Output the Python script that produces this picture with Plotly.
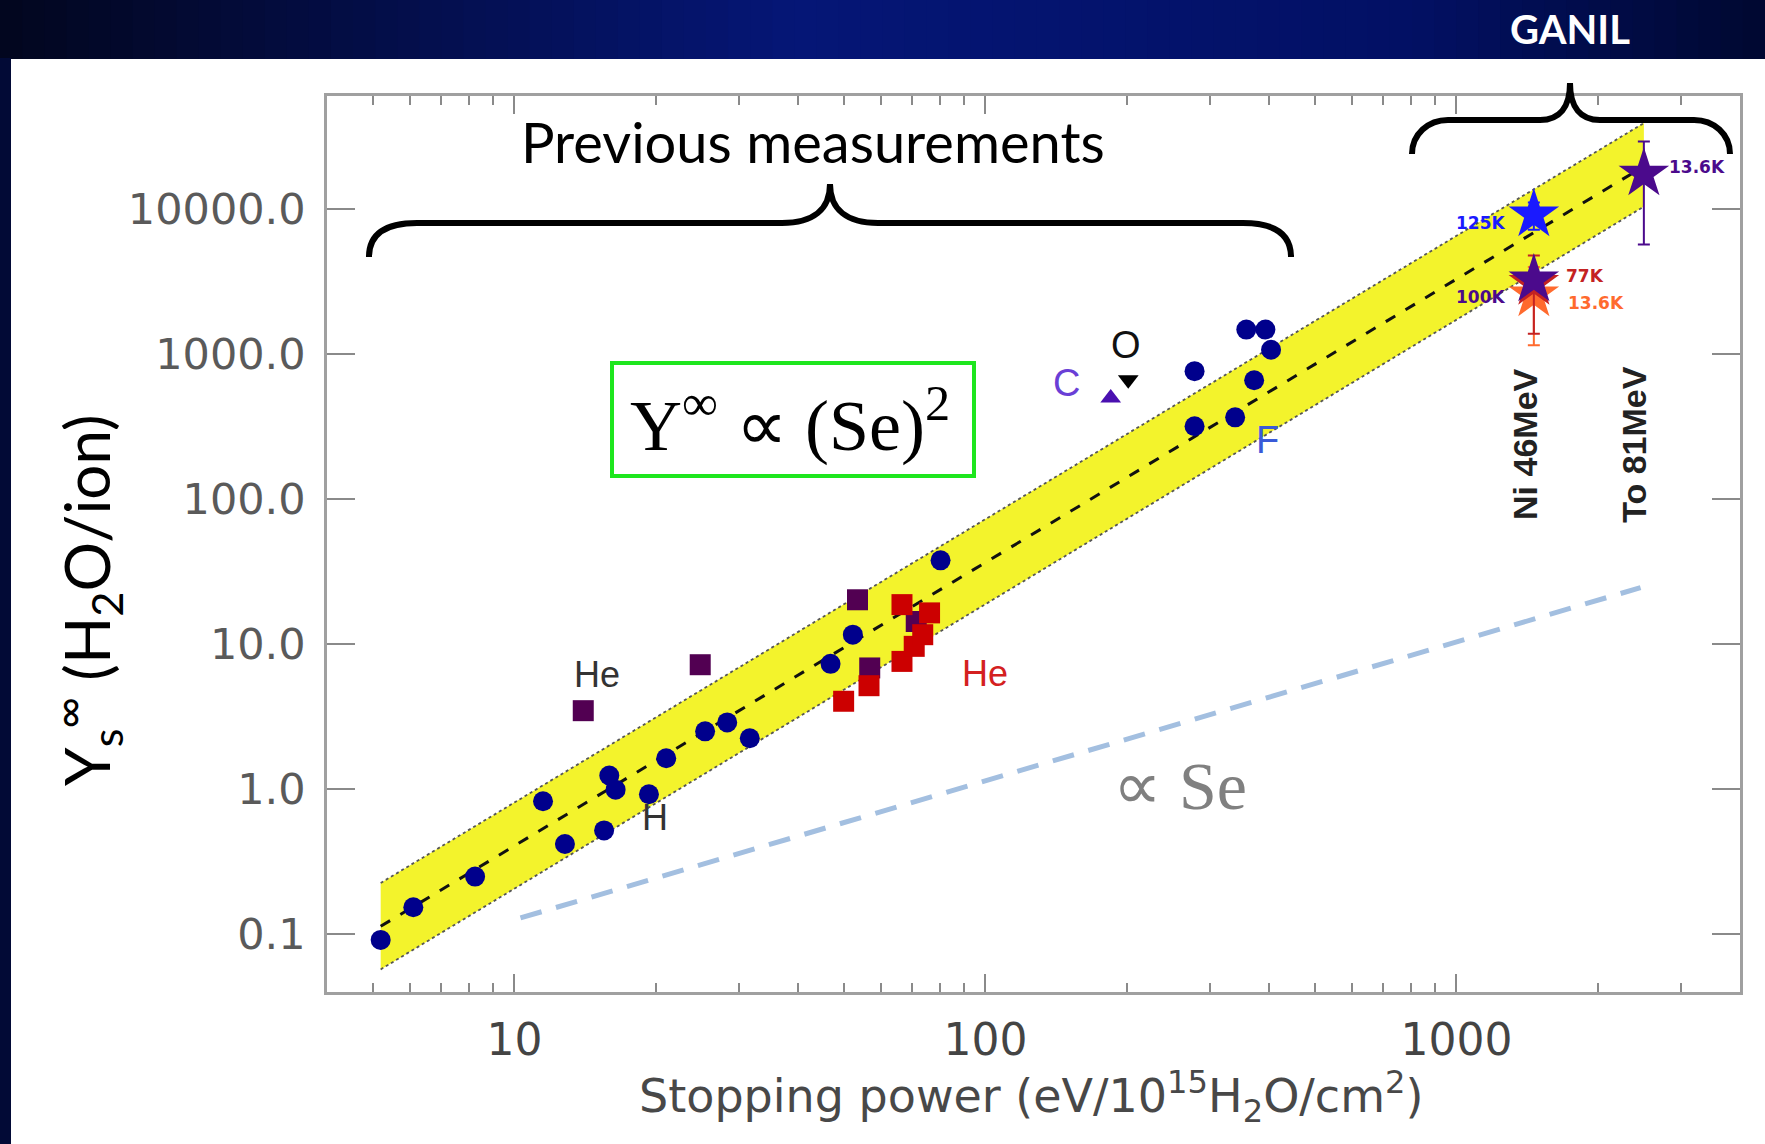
import math
import plotly.graph_objects as go

# ---------------- data ----------------
# Previous measurements - dark blue circles
circ_se = [5.2, 6.1, 8.25, 11.5, 12.8, 15.5, 15.9, 16.4, 19.3, 21.0, 25.4, 28.3, 31.6,
           46.9, 52.3, 80.3, 278, 278, 339, 358, 393, 404, 372]
circ_y = [0.091, 0.153, 0.249, 0.824, 0.418, 0.518, 1.24, 0.99, 0.92, 1.63, 2.5, 2.88, 2.24,
          7.3, 11.6, 37.8, 762, 318, 366, 1476, 1476, 1071, 660]

# He - purple squares
he_purple_se = [14.0, 24.8, 53.5, 56.8, 71.3]
he_purple_y = [3.47, 7.2, 20.2, 6.84, 14.3]

# He - red squares
he_red_se = [50.0, 56.6, 66.5, 70.6, 73.6, 76.1, 66.5]
he_red_y = [4.03, 5.16, 7.59, 9.64, 11.6, 16.4, 18.7]

# C (triangle up) and O (triangle down)
c_se, c_y = [184.5], [498]
o_se, o_y = [201], [665]

# GANIL stars: Ni 46 MeV and Ta 81 MeV
star_labels = ["13.6K", "77K", "100K", "125K", "13.6K"]
star_se = [1460, 1460, 1460, 1460, 2500]
star_y = [2570, 3080, 3260, 9150, 17500]
star_err = [1420, 1700, 300, 1940, 11800]
star_colors = ["#ff6a2e", "#c42222", "#4b0a8c", "#1a1aff", "#4b0a8c"]

# Fit band  Y ~ Se^2  (center, upper, lower)
fit_se = [5.2, 2500]
fit_center = [0.113, 19700]
fit_upper = [0.225, 39200]
fit_lower = [0.057, 10400]

# Linear reference  Y ~ Se
lin_se = [10.3, 2460]
lin_y = [0.129, 24.5]

y_tickvals = [0.1, 1, 10, 100, 1000, 10000]
y_ticktext = ["0.1", "1.0", "10.0", "100.0", "1000.0", "10000.0"]
x_tickvals = [10, 100, 1000]
x_ticktext = ["10", "100", "1000"]
x_minor = [5, 6, 7, 8, 9, 20, 30, 40, 50, 60, 70, 80, 90,
           200, 300, 400, 500, 600, 700, 800, 900, 2000, 3000, 4000]

# ---------------- layout geometry (pixels) ----------------
W, H = 1765, 1144
L, R, T, B = 327, 1740, 96, 992


def px(x):
    return (x - L) / (R - L)


def py(y):
    return (B - y) / (B - T)


fig = go.Figure()

# yellow band
fig.add_trace(go.Scatter(
    x=fit_se + fit_se[::-1], y=fit_upper + fit_lower[::-1],
    fill="toself", fillcolor="#f3f32c", mode="lines", line=dict(width=0),
    hoverinfo="skip", showlegend=False))
for edge in (fit_upper, fit_lower):
    fig.add_trace(go.Scatter(x=fit_se, y=edge, mode="lines",
                             line=dict(color="#555555", width=1.8, dash="dot"),
                             hoverinfo="skip", showlegend=False))

# ~ Se line
fig.add_trace(go.Scatter(x=lin_se, y=lin_y, mode="lines",
                         line=dict(color="#a3bfe0", width=5, dash="22px,15px"),
                         showlegend=False))
# ~ Se^2 center line
fig.add_trace(go.Scatter(x=fit_se, y=fit_center, mode="lines",
                         line=dict(color="#111111", width=3, dash="11px,12px"),
                         showlegend=False))

# markers
fig.add_trace(go.Scatter(x=he_purple_se, y=he_purple_y, mode="markers",
                         marker=dict(symbol="square", size=21, color="#520052"),
                         showlegend=False))
fig.add_trace(go.Scatter(x=he_red_se, y=he_red_y, mode="markers",
                         marker=dict(symbol="square", size=21, color="#cc0000"),
                         showlegend=False))
fig.add_trace(go.Scatter(x=circ_se, y=circ_y, mode="markers",
                         marker=dict(symbol="circle", size=20, color="#00008c"),
                         showlegend=False))
fig.add_trace(go.Scatter(x=c_se, y=c_y, mode="markers",
                         marker=dict(symbol="triangle-up", size=18, color="#4a10b0"),
                         showlegend=False))
fig.add_trace(go.Scatter(x=o_se, y=o_y, mode="markers",
                         marker=dict(symbol="triangle-down", size=18, color="#000000"),
                         showlegend=False))

# stars with error bars
for s, v, e, col in zip(star_se, star_y, star_err, star_colors):
    fig.add_trace(go.Scatter(
        x=[s], y=[v], mode="markers",
        marker=dict(symbol="star", size=38, color=col, line=dict(width=0)),
        error_y=dict(type="data", array=[e], arrayminus=[e], color=col,
                     thickness=2, width=6),
        showlegend=False))

# ---------------- axes ----------------
axis_col = "#a0a0a0"
fig.update_xaxes(
    type="log", range=[math.log10(4), math.log10(4000)],
    showline=True, linecolor=axis_col, linewidth=2.5, mirror="allticks",
    ticks="inside", ticklen=18, tickwidth=2, tickcolor="#8a8a8a",
    tickmode="array", tickvals=x_tickvals, ticktext=x_ticktext,
    minor=dict(ticks="inside", ticklen=9, tickwidth=2, tickcolor="#8a8a8a",
               tickmode="array", tickvals=x_minor, showgrid=False),
    showgrid=False, zeroline=False,
    tickfont=dict(family="DejaVu Sans", size=44, color="#444444"),
    ticklabelstandoff=7,
)
fig.update_yaxes(
    type="log", range=[-1.4, 4.78],
    showline=True, linecolor=axis_col, linewidth=2.5, mirror="allticks",
    ticks="inside", ticklen=28, tickwidth=2, tickcolor="#8a8a8a",
    tickmode="array", tickvals=y_tickvals, ticktext=y_ticktext,
    showgrid=False, zeroline=False,
    tickfont=dict(family="DejaVu Sans", size=43, color="#5a5a5a"),
    ticklabelstandoff=10,
)

# ---------------- decorations ----------------
shapes = []
# slide header gradient
stops = [(0.0, (2, 6, 30)), (0.45, (5, 22, 118)), (0.8, (2, 16, 100)), (1.0, (0, 8, 48))]


def grad(t):
    for (t0, c0), (t1, c1) in zip(stops[:-1], stops[1:]):
        if t0 <= t <= t1:
            f = (t - t0) / (t1 - t0)
            return "rgb(%d,%d,%d)" % tuple(round(a + (b - a) * f) for a, b in zip(c0, c1))
    return "rgb(0,8,48)"


N = 80
for i in range(N):
    x0 = W * i / N
    x1 = W * (i + 1) / N + 1
    shapes.append(dict(type="rect", xref="paper", yref="paper",
                       x0=px(x0), x1=px(x1), y0=py(59), y1=py(0),
                       fillcolor=grad((i + 0.5) / N), line=dict(width=0), layer="below"))
# left dark strip
shapes.append(dict(type="rect", xref="paper", yref="paper",
                   x0=px(0), x1=px(11), y0=py(H), y1=py(58),
                   fillcolor="#020a36", line=dict(width=0), layer="below"))


def brace(xl, xr, xt, yend, yh, ytip, rc, rt):
    pts = [
        ("M", [(xl, yend)]),
        ("C", [(xl, yend - rc * 0.55), (xl + rc * 0.45, yh), (xl + rc, yh)]),
        ("L", [(xt - rt, yh)]),
        ("C", [(xt - rt * 0.35, yh), (xt, yh - (yh - ytip) * 0.35), (xt, ytip)]),
        ("C", [(xt, yh - (yh - ytip) * 0.35), (xt + rt * 0.35, yh), (xt + rt, yh)]),
        ("L", [(xr - rc, yh)]),
        ("C", [(xr - rc * 0.45, yh), (xr, yend - rc * 0.55), (xr, yend)]),
    ]
    s = ""
    for cmd, pp in pts:
        s += cmd + " " + " ".join("%.5f,%.5f" % (px(a), py(b)) for a, b in pp) + " "
    return s


shapes.append(dict(type="path", xref="paper", yref="paper",
                   path=brace(369, 1291, 830, 257, 223, 184, 48, 48),
                   line=dict(color="black", width=6)))
shapes.append(dict(type="path", xref="paper", yref="paper",
                   path=brace(1412, 1730, 1570, 154, 120, 83, 36, 30),
                   line=dict(color="black", width=6)))
# green formula box
shapes.append(dict(type="rect", xref="paper", yref="paper",
                   x0=px(612), x1=px(974), y0=py(476), y1=py(363),
                   line=dict(color="#1ee61e", width=4), fillcolor="rgba(0,0,0,0)"))

ann = []


def ptext(x, y, text, size, color, family, **kw):
    ann.append(dict(xref="paper", yref="paper", x=px(x), y=py(y), text=text,
                    xanchor="center", yanchor="middle",
                    showarrow=False, font=dict(size=size, color=color, family=family), **kw))


def dtext(xv, yv, text, size, color, family, xanchor="center", **kw):
    ann.append(dict(xref="x", yref="y", x=math.log10(xv), y=math.log10(yv), text=text,
                    xanchor=xanchor, yanchor="middle",
                    showarrow=False, font=dict(size=size, color=color, family=family), **kw))


ptext(1570, 29, "<b>GANIL</b>", 40, "white", "Lato")
ptext(813, 141, "Previous measurements", 56, "black", "Lato")
ptext(790, 420, "Y<sup>∞</sup> ∝ (Se)<sup>2</sup>", 72, "black", "Liberation Serif")
ptext(1180, 786, "∝ Se", 68, "#808080", "Liberation Serif")
ptext(86, 600, "Y<sub>s</sub><sup>∞</sup> (H<sub>2</sub>O/ion)", 62, "black", "Lato",
      textangle=-90)
ptext(1031, 1096, "Stopping power (eV/10<sup>15</sup>H<sub>2</sub>O/cm<sup>2</sup>)", 46,
      "#484848", "DejaVu Sans")

# ion labels
dtext(15.0, 6.15, "He", 36, "#333333", "Liberation Sans")
dtext(99.7, 6.25, "He", 36, "#d42020", "Liberation Sans")
dtext(19.9, 0.635, "H", 36, "#333333", "Liberation Sans")
dtext(148.6, 631, "C", 38, "#6a3fd6", "Liberation Sans")
dtext(198.6, 1160, "O", 38, "#111111", "Liberation Sans")
dtext(397, 257, "F", 38, "#3a5ad8", "Liberation Sans")
dtext(1393, 237, "<b>Ni 46MeV</b>", 34, "#222222", "Liberation Sans", textangle=-90)
dtext(2383, 237, "<b>To 81MeV</b>", 34, "#222222", "Liberation Sans", textangle=-90)

# star labels
lab_shift = [(32, -8, "left"), (30, 7, "left"), (-27, -17, "right"), (-27, -8, "right"),
             (23, 7, "left")]
for s, v, lab, col, (dx, dy, anc) in zip(star_se, star_y, star_labels, star_colors, lab_shift):
    dtext(s, v, "<b>" + lab + "</b>", 17, col, "DejaVu Sans", xanchor=anc,
          xshift=dx, yshift=dy)

fig.update_layout(
    width=W, height=H,
    margin=dict(l=L, r=W - R, t=T, b=H - B, pad=0),
    paper_bgcolor="white", plot_bgcolor="white",
    shapes=shapes, annotations=ann, showlegend=False,
)

fig.write_html("out.html", config={"displayModeBar": False},
               post_script="document.body.style.margin='0';")
